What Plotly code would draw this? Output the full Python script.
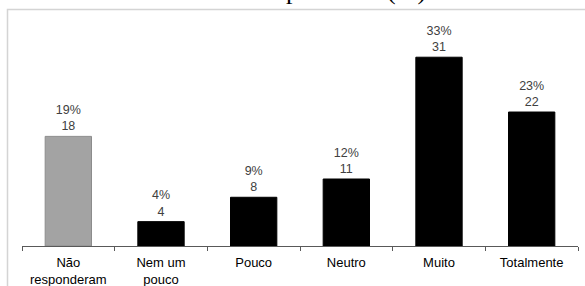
import plotly.graph_objects as go

categories = ["Não<br>responderam", "Nem um<br>pouco", "Pouco", "Neutro", "Muito", "Totalmente"]
counts = [18, 4, 8, 11, 31, 22]
percents = [19, 4, 9, 12, 33, 23]
title_text = "com companheiros(as)"
bar_colors = ["#a3a3a3", "#000000", "#000000", "#000000", "#000000", "#000000"]
line_colors = ["#8c8c8c", "#000000", "#000000", "#000000", "#000000", "#000000"]

W, H = 585, 286
ml, mr, mt, mb = 22, 7, 30, 40
pw = W - ml - mr
ph = H - mt - mb

def px_x(x):
    return (x - ml) / pw

def px_y(y):
    return (H - mb - y) / ph

fig = go.Figure()
fig.add_trace(go.Bar(
    x=categories,
    y=counts,
    customdata=percents,
    marker=dict(color=bar_colors, line=dict(color=line_colors, width=1)),
    texttemplate="%{customdata}%<br>%{y}",
    textposition="outside",
    textfont=dict(family="Liberation Sans, Arial", size=12.5, color="#404040"),
    cliponaxis=False,
    width=0.5,
    hoverinfo="skip",
))

fig.add_shape(type="rect", xref="paper", yref="paper",
              x0=px_x(7.5), x1=px_x(600), y0=px_y(300), y1=px_y(9.5),
              line=dict(color="#d4d4d4", width=1.5), fillcolor="rgba(0,0,0,0)", layer="below")

fig.add_annotation(text=title_text, xref="paper", yref="paper",
                   x=px_x(308), y=px_y(-9), xanchor="center", yanchor="middle",
                   showarrow=False,
                   font=dict(family="Liberation Serif, Times New Roman", size=26, color="#000000"))

fig.update_layout(
    width=W, height=H,
    margin=dict(l=ml, r=mr, t=mt, b=mb, pad=0, autoexpand=False),
    paper_bgcolor="white", plot_bgcolor="white",
    showlegend=False,
    xaxis=dict(
        type="category",
        automargin=False,
        tickson="boundaries",
        ticks="outside", ticklen=4, tickcolor="#595959", tickwidth=1,
        showline=True, linecolor="#595959", linewidth=1.2,
        showgrid=False, zeroline=False,
        tickfont=dict(family="Liberation Sans, Arial", size=13, color="#000000"),
        ticklabelstandoff=4,
    ),
    yaxis=dict(range=[0, ph / 6.09], visible=False, automargin=False,
               showgrid=False, zeroline=False),
)

fig.write_html("out.html",
               config={"displayModeBar": False},
               post_script="document.body.style.margin='0';document.body.style.overflow='hidden';")
